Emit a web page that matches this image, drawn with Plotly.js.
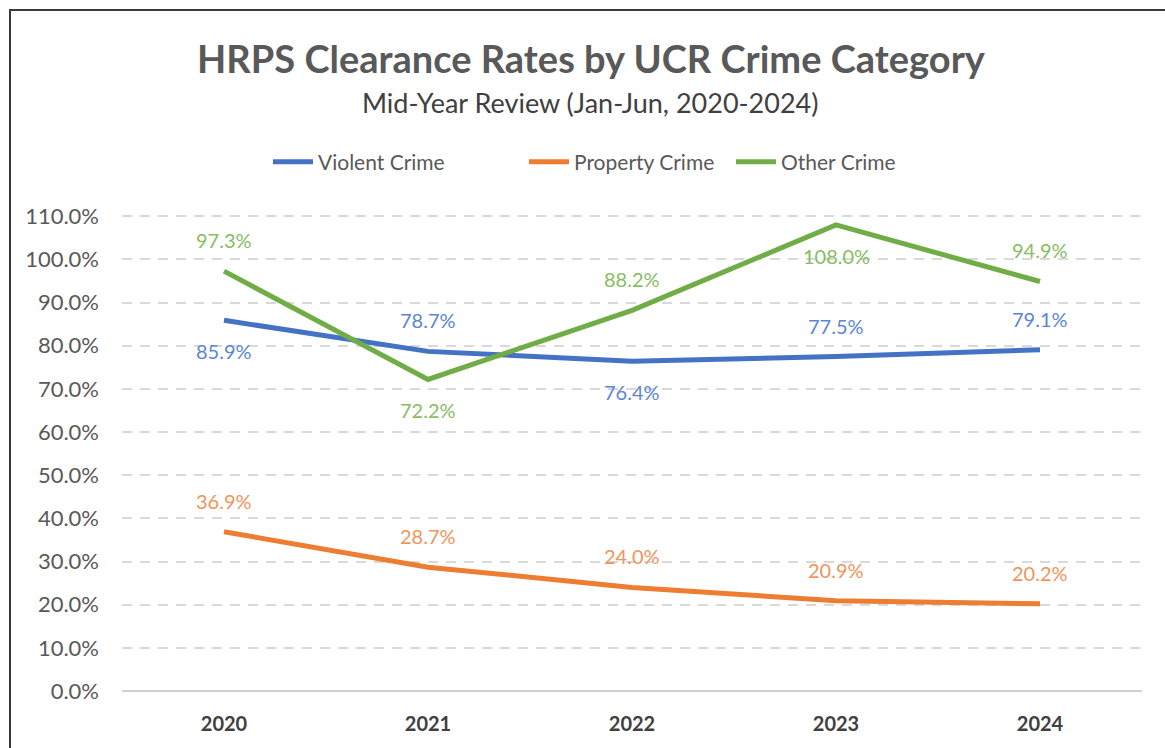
<!DOCTYPE html>
<html><head><meta charset="utf-8">
<script src="https://cdn.plot.ly/plotly-3.0.1.min.js"></script>
<style>
html,body{margin:0;padding:0;background:#fff;}
#wrap{position:relative;width:1165px;height:748px;overflow:hidden;}
#chart{width:1165px;height:748px;}
#frame{position:absolute;left:9px;top:9px;width:1200px;height:800px;border:2px solid #3a3a3a;pointer-events:none;box-sizing:border-box;}
</style></head>
<body><div id="wrap"><div id="chart"></div><div id="frame"></div></div>
<script>
const years = ['2020','2021','2022','2023','2024'];
const violent = [85.9, 78.7, 76.4, 77.5, 79.1];
const property = [36.9, 28.7, 24.0, 20.9, 20.2];
const other = [97.3, 72.2, 88.2, 108.0, 94.9];
const yTicks = [0, 10, 20, 30, 40, 50, 60, 70, 80, 90, 100, 110];
const yTickLabels = ['0.0%','10.0%','20.0%','30.0%','40.0%','50.0%','60.0%','70.0%','80.0%','90.0%','100.0%','110.0%'];
const violentLabelPos = ['below','above','below','above','above'];
const propertyLabelPos = ['above','above','above','above','above'];
const otherLabelPos = ['above','below','above','below','above'];

const FONT = 'Lato, "Open Sans", sans-serif';
const series = [
  {name:'Violent Crime', y:violent, color:'#4472C4', label:'#5B86D3', pos:violentLabelPos, lw:201},
  {name:'Property Crime', y:property, color:'#ED7D31', label:'#F0955A', pos:propertyLabelPos, lw:152},
  {name:'Other Crime', y:other, color:'#70AD47', label:'#86BD63', pos:otherLabelPos, lw:150}
];

const traces = series.map(s => ({
  x: years, y: s.y, name: s.name, type:'scatter', mode:'lines',
  line:{color:s.color, width:5}, hoverinfo:'skip', legendwidth:s.lw
}));

const annotations = [];
series.forEach(s => {
  s.y.forEach((v,i) => {
    annotations.push({x:i, y:v, xref:'x', yref:'y', text:v.toFixed(1)+'%',
      showarrow:false, yshift: s.pos[i]==='above'?31:-31,
      font:{family:FONT, size:20, color:s.label}});
  });
});
annotations.push({text:'Mid-Year Review (Jan-Jun, 2020-2024)', xref:'paper', yref:'paper',
  x:(590-122)/1020, y:(691-102)/479, xanchor:'center', yanchor:'middle', showarrow:false,
  font:{family:FONT, size:27, color:'#404040'}});

const layout = {
  width:1165, height:748,
  paper_bgcolor:'#fff', plot_bgcolor:'#fff',
  margin:{l:122, r:23, t:212, b:57},
  title:{text:'<b>HRPS Clearance Rates by UCR Crime Category</b>', xref:'container', yref:'container',
    x:591/1165, y:1-60/748, xanchor:'center', yanchor:'middle',
    font:{family:FONT, size:38, color:'#595959'}},
  showlegend:true,
  legend:{orientation:'h', xref:'container', yref:'container', x:268/1165, y:1-162/748,
    xanchor:'left', yanchor:'middle', font:{family:FONT, size:21, color:'#595959'},
    itemwidth:40, tracegroupgap:0},
  xaxis:{type:'category', range:[-0.5,4.5], showgrid:false, zeroline:false, showline:false, ticks:'',
    ticklabelstandoff:19,
    tickfont:{family:FONT, size:20, color:'#404040', weight:'bold'}, fixedrange:true},
  yaxis:{range:[0,111], tickmode:'array', tickvals:yTicks, ticktext:yTickLabels, showgrid:true,
    gridcolor:'#d9d9d9', gridwidth:2, griddash:'10px,8px', zeroline:true, zerolinecolor:'#d0d0d0', zerolinewidth:2,
    showline:false, ticks:'', ticklabelstandoff:22,
    tickfont:{family:FONT, size:22, color:'#595959'}, fixedrange:true},
  annotations: annotations
};
Plotly.newPlot('chart', traces, layout, {displayModeBar:false, staticPlot:true});
</script></body></html>
